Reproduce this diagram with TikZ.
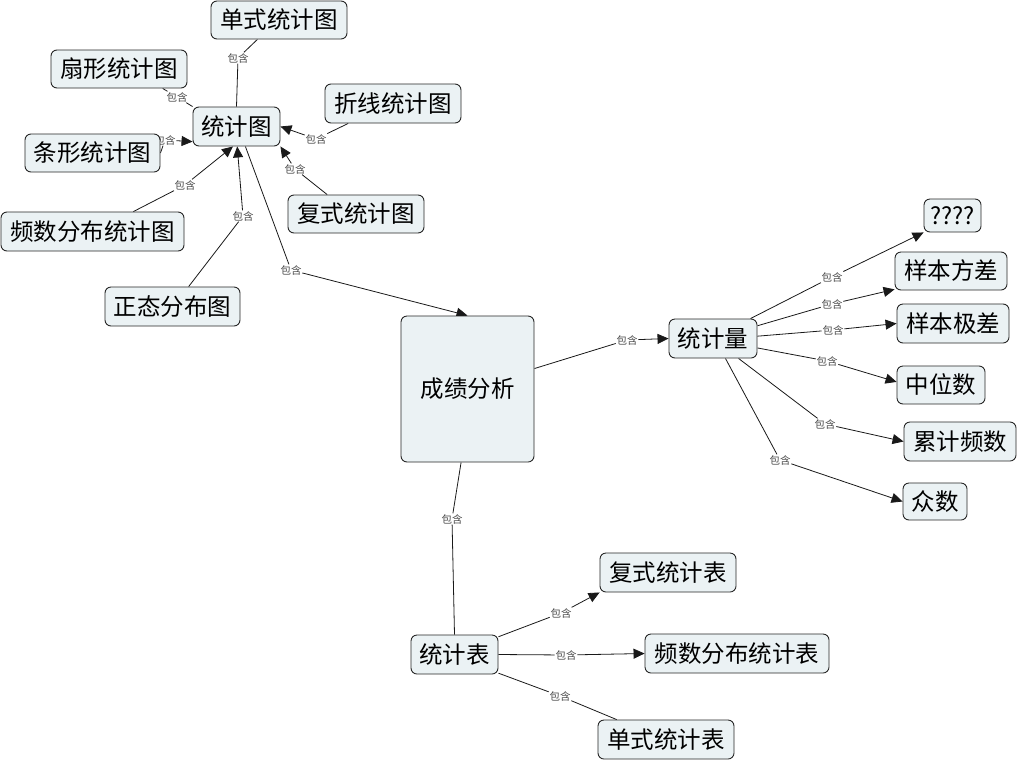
\documentclass[tikz,border=0pt]{standalone}
\usepackage{fontspec}
\setmainfont{Noto Sans CJK SC}
\usetikzlibrary{arrows.meta}
\definecolor{boxfill}{HTML}{EBF2F4}
\pgfdeclarelayer{lines}
\pgfdeclarelayer{labels}
\pgfsetlayers{lines,labels,main}
\begin{document}
\begin{tikzpicture}[x=1pt,y=-1pt,
 concept/.style={draw=black!85, fill=boxfill, rounded corners=6pt, line width=0.9pt, inner sep=0pt, font=\fontsize{23.5}{27}\selectfont},
 lbl/.style={fill=white, inner sep=0.6pt, font=\fontsize{10.5}{12}\selectfont, text=black!70},
 link/.style={draw=black!90, line width=0.8pt},
 arr/.style={link, -{Triangle[length=11pt,width=10pt]}}]
\useasboundingbox (0,0) rectangle (1019,761);
% concepts
\node[concept, minimum width=136pt, minimum height=38pt] (dsT) at (279,20) {单式统计图};
\node[concept, minimum width=136pt, minimum height=38pt] (sxT) at (119,69) {扇形统计图};
\node[concept, minimum width=87pt, minimum height=39pt] (tjt) at (236.5,126.5) {统计图};
\node[concept, minimum width=136pt, minimum height=39pt] (zxT) at (393,103.5) {折线统计图};
\node[concept, minimum width=135pt, minimum height=38pt] (txT) at (92.5,153) {条形统计图};
\node[concept, minimum width=136pt, minimum height=38pt] (fsT) at (356,214) {复式统计图};
\node[concept, minimum width=183pt, minimum height=39pt] (pstT) at (92.5,231.5) {频数分布统计图};
\node[concept, minimum width=135pt, minimum height=39pt] (ztT) at (172.5,306.5) {正态分布图};
\node[concept, minimum width=133pt, minimum height=146pt] (cj) at (467.5,389) {成绩分析};
\node[concept, minimum width=88pt, minimum height=39pt] (tjl) at (713,338.5) {统计量};
\node[concept, minimum width=57pt, minimum height=33pt] (q) at (952.5,215.5) {????};
\node[concept, minimum width=112pt, minimum height=38pt] (fc) at (951,271) {样本方差};
\node[concept, minimum width=112pt, minimum height=39pt] (jc) at (953,323.5) {样本极差};
\node[concept, minimum width=88pt, minimum height=38pt] (zw) at (941,385) {中位数};
\node[concept, minimum width=112pt, minimum height=39pt] (lj) at (960,441.5) {累计频数};
\node[concept, minimum width=64pt, minimum height=37pt] (zs) at (935,501.5) {众数};
\node[concept, minimum width=87pt, minimum height=39pt] (tjb) at (454.5,654.5) {统计表};
\node[concept, minimum width=136pt, minimum height=39pt] (fsb) at (668,572.5) {复式统计表};
\node[concept, minimum width=184pt, minimum height=39pt] (psb) at (737,653.5) {频数分布统计表};
\node[concept, minimum width=136pt, minimum height=39pt] (dsb) at (666,739.5) {单式统计表};
% link labels
\begin{pgfonlayer}{labels}
\node[lbl] (l1) at (238,58) {包含};
\node[lbl] (l2) at (177,97) {包含};
\node[lbl] (l3) at (165,140) {包含};
\node[lbl] (l4) at (185,185) {包含};
\node[lbl] (l5) at (243,216) {包含};
\node[lbl] (l6) at (316,139) {包含};
\node[lbl] (l7) at (295,169) {包含};
\node[lbl] (l8) at (291,270) {包含};
\node[lbl] (l9) at (627,340) {包含};
\node[lbl] (l10) at (452,519) {包含};
\node[lbl] (m1) at (832,277) {包含};
\node[lbl] (m2) at (832,304) {包含};
\node[lbl] (m3) at (833,330) {包含};
\node[lbl] (m4) at (827,361) {包含};
\node[lbl] (m5) at (825,424) {包含};
\node[lbl] (m6) at (780,460) {包含};
\node[lbl] (n1) at (561,613) {包含};
\node[lbl] (n2) at (566,655) {包含};
\node[lbl] (n3) at (560,696) {包含};
\end{pgfonlayer}
% connectors
\begin{pgfonlayer}{lines}
\draw[link] (dsT.-138) -- (l1) -- (tjt.north);
\draw[link] (sxT.-24) -- (l2) -- (tjt.north west);
\draw[link] (txT.east) -- (l3); \draw[arr] (l3) -- (tjt.199);
\draw[link] (pstT.26) -- (l4); \draw[arr] (l4) -- (tjt.-100);
\draw[link] (ztT.51) -- (l5); \draw[arr] (l5) -- (tjt.-88);
\draw[link] (zxT.-156) -- (l6); \draw[arr] (l6) -- (tjt.east);
\draw[link] (fsT.146) -- (l7); \draw[arr] (l7) -- (tjt.south east);
\draw[link] (tjt.-66) -- (l8); \draw[arr] (l8) -- (cj.north);
\draw[link] (cj.17.5) -- (l9); \draw[arr] (l9) -- (tjl.west);
\draw[link] (cj.-95) -- (l10) -- (tjb.north);
\draw[link] (tjl.28) -- (m1); \draw[arr] (m1) -- (q.south west);
\draw[link] (tjl.16) -- (m2); \draw[arr] (m2) -- (fc.198);
\draw[link] (tjl.3) -- (m3); \draw[arr] (m3) -- (jc.west);
\draw[link] (tjl.-12) -- (m4); \draw[arr] (m4) -- (zw.176);
\draw[link] (tjl.-38) -- (m5); \draw[arr] (m5) -- (lj.west);
\draw[link] (tjl.-58) -- (m6); \draw[arr] (m6) -- (zs.west);
\draw[link] (tjb.22) -- (n1); \draw[arr] (n1) -- (fsb.south west);
\draw[link] (tjb.east) -- (n2); \draw[arr] (n2) -- (psb.west);
\draw[link] (tjb.-23) -- (n3) -- (dsb.158);
\end{pgfonlayer}
\end{tikzpicture}
\end{document}
